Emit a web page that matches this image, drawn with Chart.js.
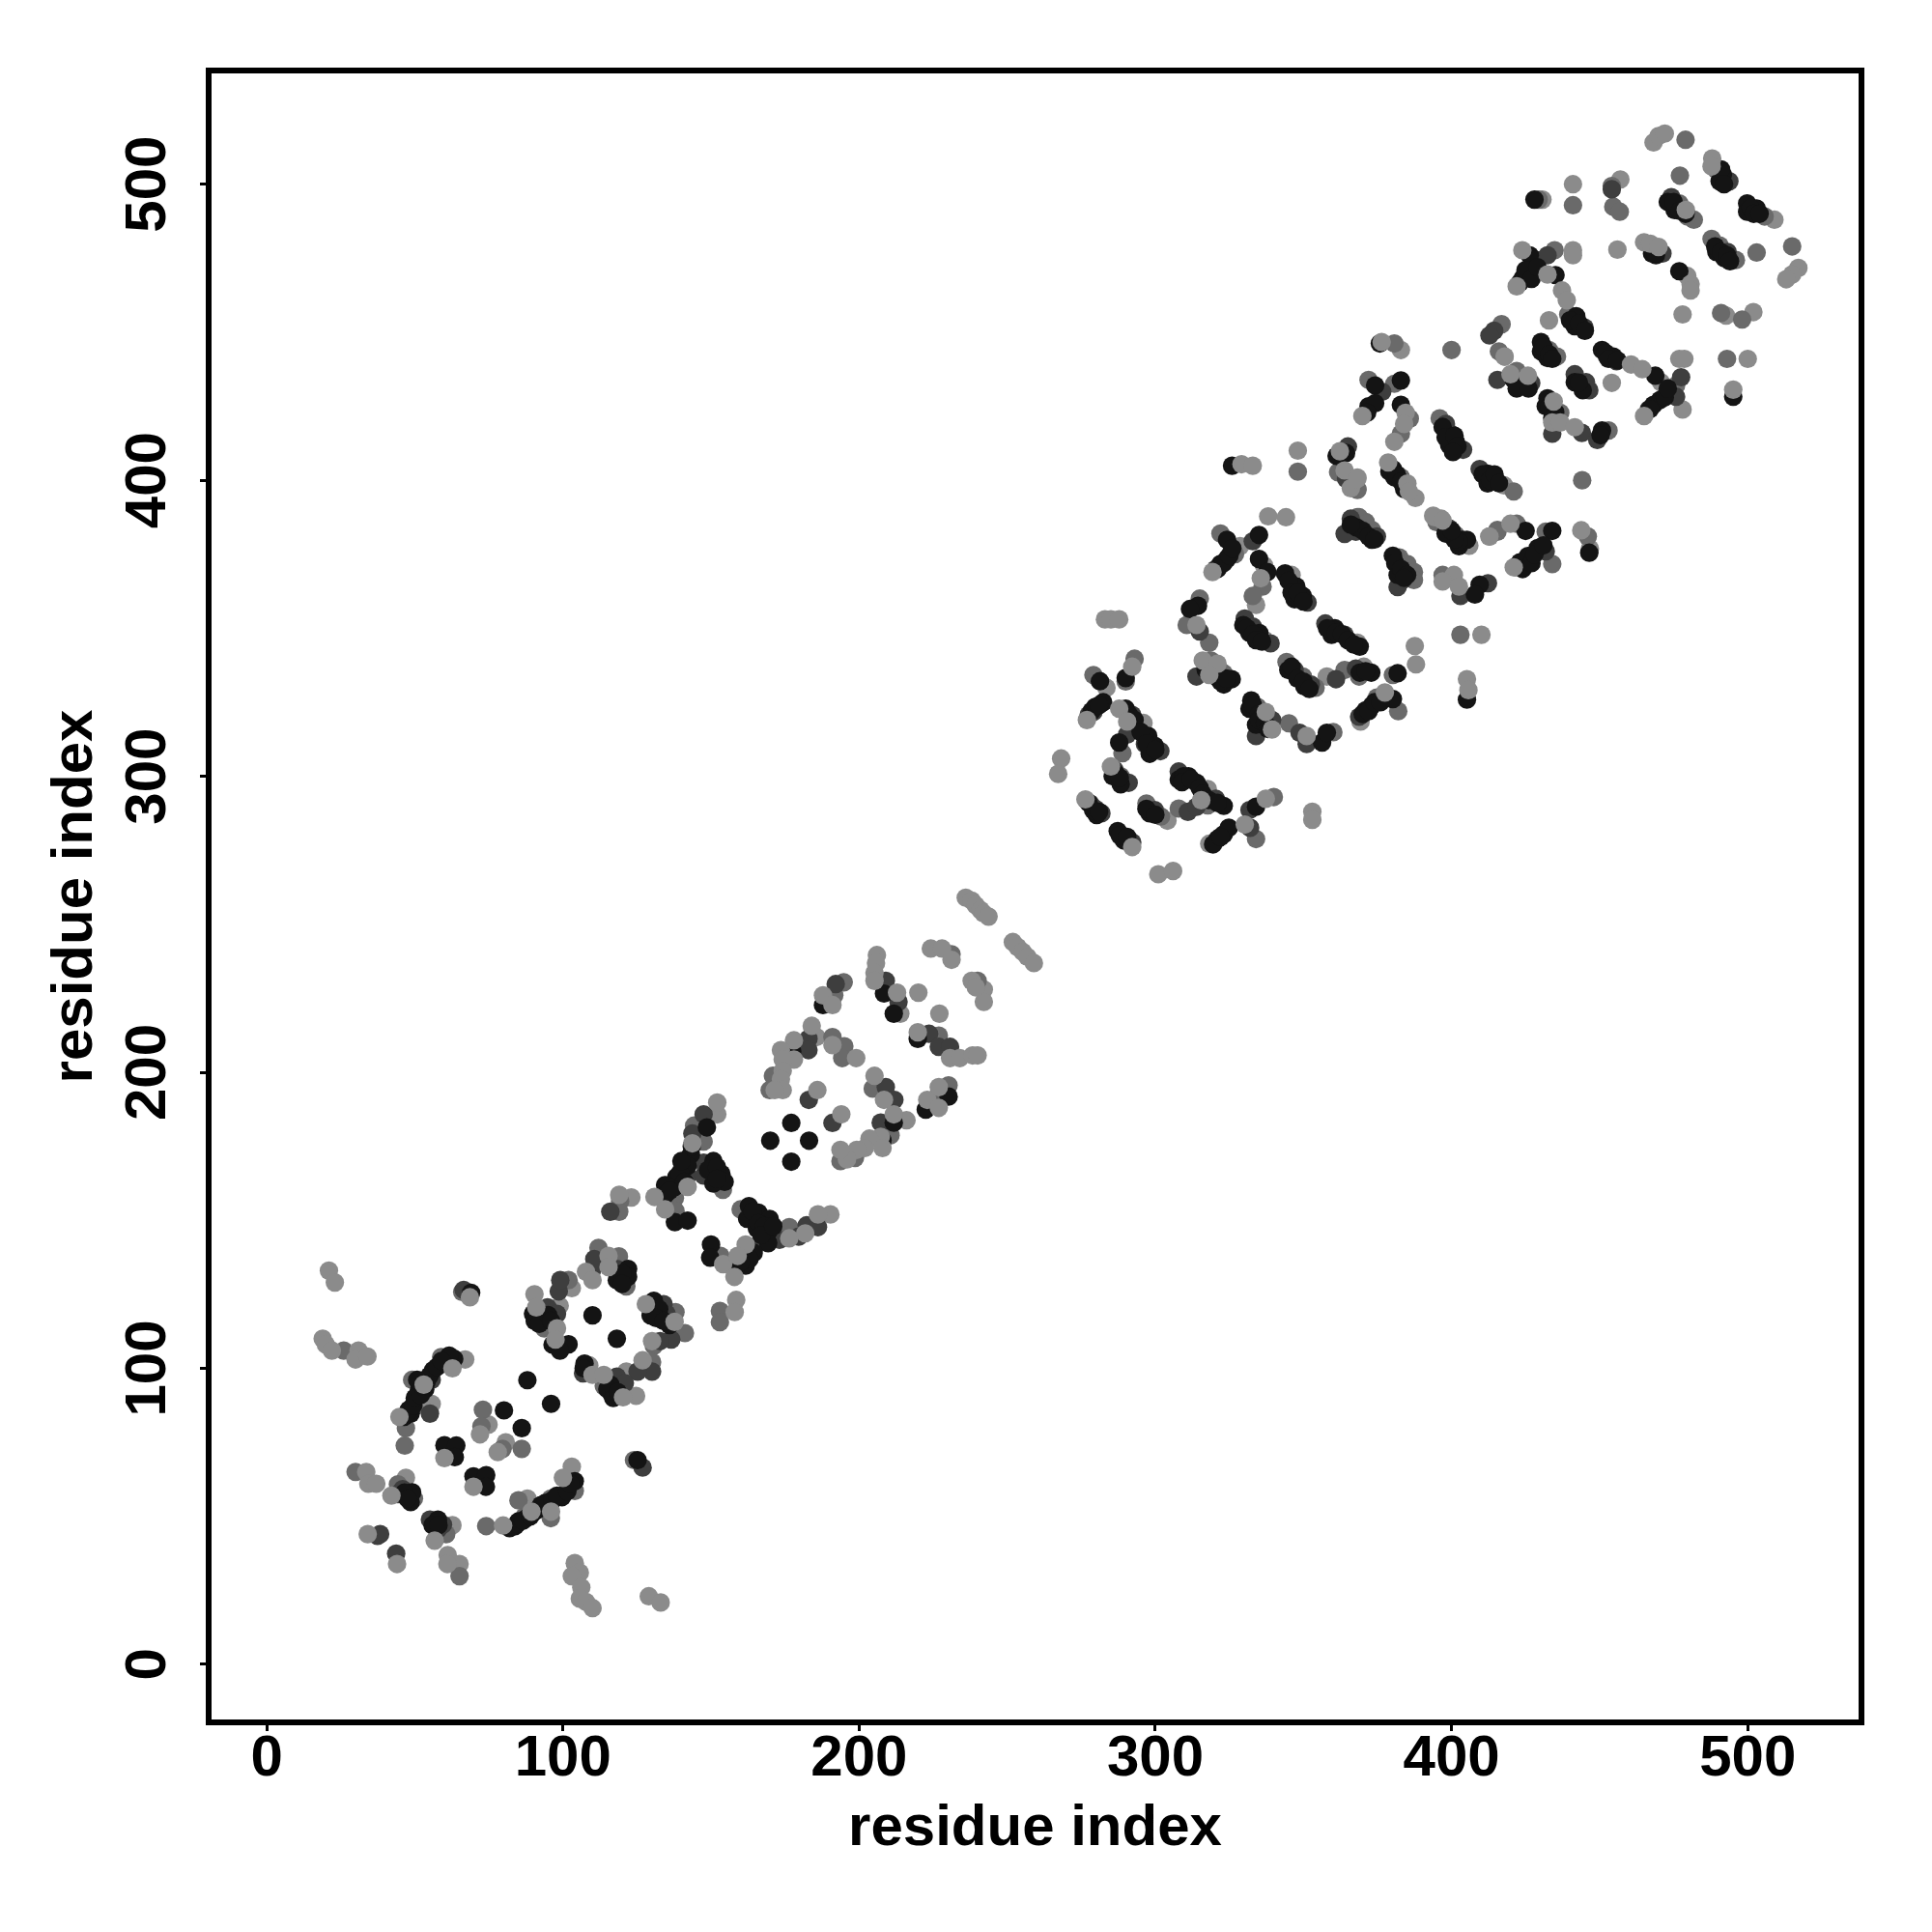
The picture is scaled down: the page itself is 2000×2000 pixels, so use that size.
<!DOCTYPE html>
<html>
<head>
<meta charset="utf-8">
<script src="https://cdn.jsdelivr.net/npm/chart.js@4/dist/chart.umd.min.js"></script>
<style>
  body { margin: 0; background: #fff; }
</style>
</head>
<body>
<canvas id="contacts" width="2000" height="2000"></canvas>
<script>
// residue pairs [i, j], grouped by how dark the dot is
const greyBack = [
  [21,133],[23,129],[18.9,110],[20,108],[22,106],[31,106],[30,103],[34,104],[62.7,100],[53,94.5],[44.8,83.6],[72,77.7],[78,71.7],[60,69.7],[69.8,60],
  [33.6,65],[34.3,61],[37,61],[42.1,57],[56.7,41.8],[34.1,44],[44,33.9],[61.1,36.9],[61,33.9],[79.8,46.9],[89.4,51.6],[96,51.6],[100,63],[68.6,124],
  [104,34.2],[105.7,31],[103,29.8],[106.2,26],[105.7,22.2],[107.8,21.1],[110,19],[129,23],[133,20.9],
  [90.4,125],[91,120.6],[98,113.5],[97.5,109.7],[107.8,132.6],[110,129.8],[115.4,138],[115.4,134.2],[128,121.7],[137.7,115.7],[130.1,109.2],[126.9,102.7],[110,97.8],[113.8,97.8],[120.3,90.2],
  [236,259],[238,258],[239.4,256.4],[241,254.8],[242,253.7],[243.7,252.6],[251.9,244],[253.5,242.3],[255.2,240.7],[256.8,239],[259,236.9],
  [224.2,241.8],[228,241.8],[231.2,238],[238,230.9],[242.1,223.8],[239.4,228.7],[206,239.6],[205.7,236.9],[205.2,233.6],[205.2,230.9],[212.8,226.9],[220,226.9],[227.1,219.8],[219.8,213.5],
  [230.7,204.8],[234,204.8],[238.3,205.7],[240,205.7],[187.8,226],[191,222.7],[184,215.7],[178,210.8],[178,204.3],[173.6,207.5],[174.2,204.3],[174.2,200.5],[173.6,197.7],[174.2,194],[171.5,194],
  [191,209.2],[199,204.8],[205.2,198.8],[208.4,190.7],[211.7,185.8],[207.3,178.2],[203.5,177.6],[207.9,174.4],[201.9,174.4],[199.2,173.8],[195.9,170.6],[193.7,173.8],[223,190.7],[226.9,188],[226.9,195],
  [185.9,194],[194,185.8],[152.1,189.8],[143.7,176],[142.1,161.3],[130.9,157.9],[134.5,153.7],[119,158.6],[186.1,152],[176.4,143.9],[181.8,145.6],[154.1,135.2],[161.7,141.8],[159,138],[157.9,130.9],[158.5,123.1],[158,119],
  [268.2,306],[267.2,300.8],[301,266.9],[306,268],[283,353],[285,353],[287.8,353],[276.9,319],[292.2,337],[287.8,322.8],[290.5,318.5],[285,303.3],[315.5,291.9],[276.4,292.2],[292.2,276.1],
  [338.1,387.8],[344.1,387.5],[335.6,366.9],[313.9,351.1],[319.3,369],[316,339.1],[321,338],[318.2,334.2],[377.5,328.3],[387.6,344],[388,337.8],[410.1,347.8],[405.2,332.8],[405.7,329.1],[337.3,321.7],[339.4,315.8],[351.1,313.6],[337.3,292.4],[330.2,283.7],[353,288],[353,285.3],
  [400.8,368],[397,365.8],[402.5,364.1],[393.8,388],[396.5,387],[412.8,381],[419.9,385.3],[329.1,405.4],[332.9,404.9],[348.1,410],[363.9,403.3],[368.2,400.9],[366,397.3],[362.3,409.8],
  [468.2,514.1],[469.9,516.3],[472,517.1],[488,508.7],[487.8,506],[441,500],[479.1,491.3],[465,480.4],[467.1,479.9],[469.9,478.8],[480.7,466.3],[480.7,464.1],[478,456],[476.9,441],[478.6,441],[500,441],[495.1,430.6],
  [423.9,477.7],[441,477.7],[441,476],[456,477.9],[432.4,469.5],[422,465.5],[437.3,464.1],[438.9,460.8],[432.9,454],[417.9,441.8],[376.4,446.7],[369.9,421.7],[384.5,422.8],[384,419],[380.7,413],
  [378.6,406],[385.1,398.9],[387.8,394],[385.6,396.2],[368.2,400.5],[394.3,387.5],[397,386.4],[443.8,383.1],[421,370.6],[434.5,426.6],[434,419.5],[436.7,419.5],[441.6,417.9],[454.1,432.9],[419.9,435.8],[425.8,435.3],[460.6,439.1],[464.4,437.5],[465,421.7],[517.1,471.7],[515,469.5],[513,467.9]
];

// black dots mostly covered by others, seen only as the dark body of the stripes
const blackHidden = [
  [47.5,85],[49.5,87.5],[50,90],[52,91],[52.5,94],[54,95.5],[55,97.5],[57.5,100.5],[59,102.5],[82,46],[84.5,47.5],[86.5,48.5],[89,50],[91,52],[94,54.5],[96.5,55.5],[98,57],[101.5,58.5],[102.5,61],[46.5,58],[47.5,56],[56,47],[58,47],
  [90.5,116],[92,115],[95,118],[96,116],[96.5,108],[99,106],[120,132],[120,128.5],[132.5,120],[131.5,117],[134,116],[107,100],[115,93],[117,90],[118.5,92],
  [139.5,166],[141,163],[136,160],[140,170],[143.5,175],[149,167],[152,168],[152,164],[164,153],[166,149],[168,148],[167,145],[171,148],[163,137],[160,136],
  [278.5,322],[281,324],[291,321],[293,319],[295,315],[297,311],[300,309],[286.5,301],[288,299.5],[309.5,300],[309,298],[312,299],[315,296],[316,294],[318,292],[321,291],[277.5,291],[279,288.5],[281,288],[288,280],[290.5,279.5],[297,289],[300,287],[319.5,277],[322,279.5],
  [321,370],[323,372],[325,374.5],[326,377],[345,366],[346,362],[348,362],[350,359],[331,350],[333,348],[334,346],[336,345.5],[358,350],[361,348.5],[363,348],[365,346],[367,344.5],[317,336],[319,335],[322,332],[324,333],[346,337],[348,333],[350,332],[352,329.5],[369,335],[371,335.5],
  [370,321],[372,322],[374,325],[376,325],[333,324],[335,321],[335,319],[337,318],[338,316],[368,384],[370,383],[372,381],[374,380],[366,385],[381,372],[383,370],[385,368],[384,367],[401,380],[398,382],
  [473,494],[475,494],[477,491],[479,490],[491,505],[492,500],[501,492],[502,490],[504,490],[489,479],[491,477],[493,476],[494,474],[469,476],[425,471],[427,468],[429,472],[440,454],[443,453],[445,450.5],[431,445],[433,442.5],[434,441],[452,443],[453,441],[456,440.5],
  [397,418],[398,414.5],[401,415],[402,411.5],[400.5,409.5],[410.5,402],[413,400],[414.5,402],[416,399],[379,403],[381.5,402],[383,399.5],[384,397],[400,383],[433,425],[435,423],[434,421],[443,433],[421,434],[422,431],[426,431],[424,370],[427,372],[428,375],[431,378],[467,424],[472,428],[473,431]
];

const blackDots = [
  [69,125.5],[63.3,103.2],[61.6,104.3],[56.2,99.4],[50.8,96.1],[53.5,92.9],[51.3,92.3],[48.6,84.7],[46.4,83.6],[48,86],[80.1,85.8],[88,96],[96,88],[86.1,79.8],[60,74],[64,73.9],[63.5,70],[69.8,63.5],[74.1,63.9],[74,60],
  [48.6,54.8],[49.1,58.1],[57.8,48.9],[83.9,46.7],[85,48.3],[87.7,49.4],[92.6,53.8],[99.7,56.5],[104,61.9],[125.2,69],
  [110,117.9],[118.2,110],[101.9,108.1],[89.9,118.4],[93.7,117.3],[98,107.6],[122,133.6],[122,130.9],[118.2,129.8],[130.7,122.8],[129.6,117.9],[136,114.6],[107.3,101.6],[116,94.5],[116.5,91.3],
  [187.8,222.7],[177.4,207],[208.4,226.6],[211.7,219.8],[219.8,211.3],[211.7,183],[207.9,177],[222.5,187.4],[230.2,191.8],[177.1,182.9],[170,176.9],[183.1,176.9],[177.1,169.8],[148.6,181.4],[143.2,172.2],[142.1,168.4],[138.3,164.6],[134.5,161.9],[137.8,161.3],[134.5,158.6],[137.8,149.4],[142.1,149.9],
  [150.8,170],[153.5,165.7],[154.6,163],[150.8,162.4],[162.8,154.8],[166,152.6],[162.2,150.5],[169.8,150.5],[169.3,146.1],[165.5,147.2],[169.3,142.3],[150,141.8],[149.7,137.4],[164.4,139],[161.7,134.7],[158.4,134.2],
  [281.3,332.1],[282.4,325],[279.7,323.4],[290,333.2],[290,322.8],[287.8,311.4],[297.6,313.6],[299.8,310.3],[298.1,307.6],[285.6,300],[288.3,297.3],[311.2,300],[313.9,297.8],[323.1,290],[307.9,298.9],[280.2,286.9],[287.3,281.5],[289.4,278.3],[298.1,287.5],
  [321,278.8],[323.1,280.4],[324.8,282.6],[334,289.7],[324.2,379.9],[335,381.5],[324.2,373.4],[322,371.7],[335,373.4],[337.8,369],[343.8,368.5],[347.6,364.1],[349.8,360.9],[347,359.8],[314.4,357.6],[311.7,356.5],[335.1,348.4],[329.7,351.1],[331.8,348.4],
  [360.6,350],[369,343.8],[359.5,347.8],[325.8,332.8],[320.4,333.7],[323.1,331],[344.9,335.9],[350.3,330.4],[372.9,335],[381.8,334.8],[380.2,326.1],[373.1,323.9],[371,322.3],[405.2,325.9],[332.4,325.6],[334,317.4],[331.8,322.8],[356.3,311.4],[357.9,314.7],
  [373.1,379.9],[380.2,374.5],[381.8,368],[409.5,364.7],[407.9,361.4],[400.3,381.5],[403.6,379.9],[402.5,377.7],[421.5,370.7],[325.9,404.9],[361.2,408.2],[364.4,409.2],
  [428,494.8],[491.6,503.2],[490.5,501],[475.3,491.3],[499.8,493.5],[503,491.8],[499.8,490.7],[489.4,477.1],[492.1,475],[467.7,476.6],[476.9,470.6],[495.1,428.2],[426.4,476],[435.1,469.3],[426.9,470.6],[424.2,468.5],[423.1,466.8],[442.1,455.4],[441.6,452],
  [430.2,446.7],[430.2,443.5],[432.4,441.3],[375.8,446.2],[374.2,432],[382.9,433.7],[372,425],[374.2,426],[371.5,422.8],[382.9,425.5],[401.4,413],[399.2,411.9],[412.2,402.2],[412.2,398.9],[380.2,403.8],[380.7,401],[405.2,379.9],[402.5,379.3],
  [425,382.9],[434,382.9],[446.5,375.5],[429.1,377.1],[425.8,374.4],[423.1,372.3],[432.4,427.7],[431.8,425],[450.8,416.8],[450.3,415.2],[441.6,433.1],[444.3,430.4],[424.8,432],[450.8,444],[454.6,441.8],[468.8,435.3],[470.4,427.1],[468.2,425.5]
];

const darkDots = [
  [55.7,96.1],[55.1,84.7],[45.9,59.2],[44.3,57.5],[55.1,48.9],[57.8,45.6],[59.5,47.2],[37.4,43.4],[38.3,44],[43.7,37.4],[90.5,51.6],[66.5,126.5],[126.9,66.5],
  [94.8,120.6],[98,118.4],[98.6,126],[99.1,129.8],[109.8,133.1],[110.6,136.9],[118.2,133.6],[134,121.7],[135,118.4],[136.6,109.7],[132.8,109.2],[130.1,98.9],[125.2,98.9],[106.8,98.3],[118.2,97.2],[120.9,95],
  [192.1,229.8],[182.9,211.3],[182.9,207.5],[209,230.9],[213.3,223.8],[223.6,213],[226.9,208.6],[230.7,208.6],[209,195],[211.9,190.7],[207.3,183],[183,190.7],[191,182.9],[147.5,185.8],[143.7,179.3],[142.1,165.1],[147.5,169.5],[147.5,165.1],[116,152.9],[179.6,144.5],[182.3,148.3],[186.1,147.7],[173.1,143.4],[164.9,141.2],
  [277.5,320.7],[279.1,321.7],[292.2,320.7],[290.5,314.1],[296.5,310.9],[301.7,308.5],[286.2,302.2],[291,297.8],[307.9,301.6],[320.4,292.4],[311,288],[313.9,289.7],[278,290.8],[279.7,289.1],[281.8,287.5],[292.2,277.7],[299.8,288.6],[332,282.6],[331.8,288.6],
  [320.4,370],[332.9,379.4],[351.4,358.7],[315,348.9],[330.2,353.3],[332.9,350.6],[338.9,344.9],[357.4,351.6],[363.9,347.8],[313.9,333.7],[347,335.9],[352.5,331],[361,332.8],[367.7,336.4],[368.8,320.1],[339.4,319],[334,313.6],[348.7,314.7],[351.1,310.9],
  [366,387],[367.7,382.6],[363.9,381.9],[374.8,381],[381.8,363.9],[383.5,366.3],[403,360.9],[412.3,365.2],[365,411.4],[364.4,400.5],
  [493.8,501],[454.1,498.3],[474.2,495.6],[493.2,477.1],[471.2,476.6],[428.6,474.4],[432.4,476],[444.9,451.6],[414.4,450.5],[412.8,448.9],[376.6,429.9],[398.1,419],[399.8,415.7],[403.9,410.3],[409.5,403.8],[415,400],[399.2,383.7],[431.8,376],
  [434,415.7],[444,416],[449.2,413.6],[441.6,435.8],[445.4,433.1],[446.5,430.4],[415.5,433.9],[423.1,433.7],[426.9,432.8],[452.5,441.8],[455.7,440.2],[477.5,434.8],[475.8,428.2],[466.6,423.9]
];

const midDots = [
  [26,106],[58.9,103.8],[49.1,96.1],[47,79.8],[46.6,73.9],[49.7,86.9],[73,86],[72.5,80.4],[86.1,72.8],[79.6,72.8],[30,65],[44.3,60.8],[49.7,56],[55.9,48.3],[60.6,44],[65.1,29.8],[74.1,46.7],[85,55.4],[95.9,56],[95.9,49.4],[104,58.6],[87,49.9],[66,125.8],[124,69],
  [93.7,113.5],[101.9,129.8],[112,140.7],[118.9,137.8],[121.4,127.7],[138,119],[141.2,111.9],[130.7,107.6],[130.1,102.1],[113.8,94],
  [231.2,239.9],[240,230.9],[194.8,230.4],[191.6,226],[170.9,198.8],[169.8,194],[191,211.9],[195,208.8],[194.3,204.8],[204.6,194.5],[210.6,178.7],[198.6,171.1],[193.7,170],[225.8,191.2],[230.2,195.6],[226.9,212.4],[144.3,182],[147.5,176.6],[137.8,157.5],[138,153.2],[154,160.3],[119.3,156.4],[119,152.9],[160,153.7],[172.5,146.7],[176.4,147.7],[153.2,138],[153,119.4],[153,115.6],
  [279.1,334.2],[290,332],[293,339.7],[288.9,307.8],[288.3,300],[317.7,290.2],[297,290.8],[301.9,286.4],[307.9,289.1],[334,278.8],[340,293],[322,382],[326.9,375],[336.2,364.1],[332.9,360.9],[315,360],[310.6,351.1],[318.2,345.1],[318.8,339.1],[323.1,334.8],
  [344.3,338.6],[349.8,333.7],[354.1,329.9],[363.9,335.9],[368.8,333.7],[380.2,334.2],[374.8,326.6],[382,322],[403,347.8],[334.5,323.4],[345.1,317.9],[360.1,314.9],
  [368.2,387.5],[371,385.9],[373.1,383.2],[382.4,373.9],[385.1,371.7],[387.3,369],[387.3,366.3],[397,368],[394.9,385.9],[399.2,383.7],[415.5,383.2],[348.1,402.9],[361.7,402.7],[368.2,397],
  [479,515],[489.4,504.9],[477.1,502.9],[429.4,494.8],[441,492.9],[454.1,499.4],[454.6,492.4],[456.8,490.7],[476.9,493.5],[481.8,488],[479.6,489.1],[505.7,489.1],[487.8,481.5],[490.5,479.3],[496,474.4],[503,476.9],[515,479],[491,456.5],[498.1,454.3],[493,441],
  [434.8,477.7],[439.4,456],[416.9,452.7],[416,443.5],[432.9,444],[435.6,441.8],[400,444],[380.7,446.2],[372,433.9],[380.7,432.6],[385.9,420.8],[382.9,415.7],[396,420.9],[421,396.2],[444.1,400],[382.9,401],[368.2,396.7],[401.4,381.5],[368.8,387.5],[371,385.3],
  [415.5,382.6],[422,385.3],[431.8,382.6],[446,381],[434,371.7],[436.7,422.8],[453,416.8],[422,436.9],[475.8,432],[473.1,428.8]
];

const greyFront = [
  [67,103],[55.7,88],[74.9,81],[80.7,75],[47,63],[62.7,47],[65.1,33.9],[88,56],[103,66.8],[103,127.1],[98.9,121.1],[108.9,101],[121.4,98.9],[124.7,90.7],
  [242.1,228],[213.9,219.8],[185.6,211.9],[216,183.8],[152.1,185.8],[123.1,157.7],[190.3,152],
  [283.5,329.9],[296,318],[317.7,295.7],[304.1,285],[318.2,277.2],[328.6,377.7],[336.7,371.2],[346,368],[334,357.9],[336.7,346.2],[368.2,345.1],[357.9,333.7],[370.4,337],[369.3,318.5],[405.7,378],
  [509,488],[406,377.9],[417.7,398.3],[479.6,469],[501.9,456.8],[492.7,455.6],[457,501.6],[470.7,433.1],[478,423.9],[446.7,376.9],[430.7,494.8],[382.9,444],[417.9,441.8],[412.8,381]
];

const axisTicks = [0, 100, 200, 300, 400, 500];
const axisTitle = 'residue index';

const toXY = pairs => pairs.map(p => ({ x: p[0], y: p[1] }));

function dotSet(pairs, color) {
  return {
    data: toXY(pairs),
    backgroundColor: color,
    borderWidth: 0,
    pointRadius: 9.6,
    pointHoverRadius: 9.6
  };
}

const labelFont = { family: '"Liberation Sans"', size: 60, weight: 'bold' };

function axisOptions(isX) {
  return {
    type: 'linear',
    min: -19.6,
    max: 538.4,
    afterBuildTicks: scale => { scale.ticks = axisTicks.map(v => ({ value: v })); },
    border: { display: false },
    grid: { display: true, drawOnChartArea: false, drawTicks: true, tickLength: 9, tickWidth: 3, tickColor: '#000' },
    title: {
      display: true,
      text: axisTitle,
      color: '#000',
      font: labelFont,
      padding: isX ? { top: 0, bottom: 71 } : { top: 42, bottom: 0 }
    },
    ticks: isX
      ? { color: '#000', font: labelFont, padding: -7, autoSkip: false, maxRotation: 0 }
      : { color: '#000', font: labelFont, padding: 2, autoSkip: false, minRotation: 90, maxRotation: 90, crossAlign: 'center' },
    afterFit: scale => {
      if (isX) scale.height = 217;
      else scale.width = 216;
    }
  };
}

// box round the plot area, both axes have one line only
const plotBox = {
  id: 'plotBox',
  afterDraw(chart) {
    const a = chart.chartArea;
    const c = chart.ctx;
    c.save();
    c.strokeStyle = '#000';
    c.lineWidth = 6;
    c.strokeRect(a.left, a.top, a.right - a.left, a.bottom - a.top);
    c.restore();
  }
};

new Chart(document.getElementById('contacts').getContext('2d'), {
  type: 'scatter',
  data: {
    datasets: [
      dotSet(greyBack, '#8b8b8b'),
      dotSet(blackHidden, '#141414'),
      dotSet(blackDots, '#141414'),
      dotSet(darkDots, '#3e3e3e'),
      dotSet(midDots, '#6a6a6a'),
      dotSet(greyFront, '#8b8b8b')
    ]
  },
  options: {
    responsive: false,
    animation: false,
    layout: { padding: { top: 73, right: 73, left: 0, bottom: 0 } },
    plugins: { legend: { display: false }, tooltip: { enabled: false } },
    scales: { x: axisOptions(true), y: axisOptions(false) }
  },
  plugins: [plotBox]
});
</script>
</body>
</html>
